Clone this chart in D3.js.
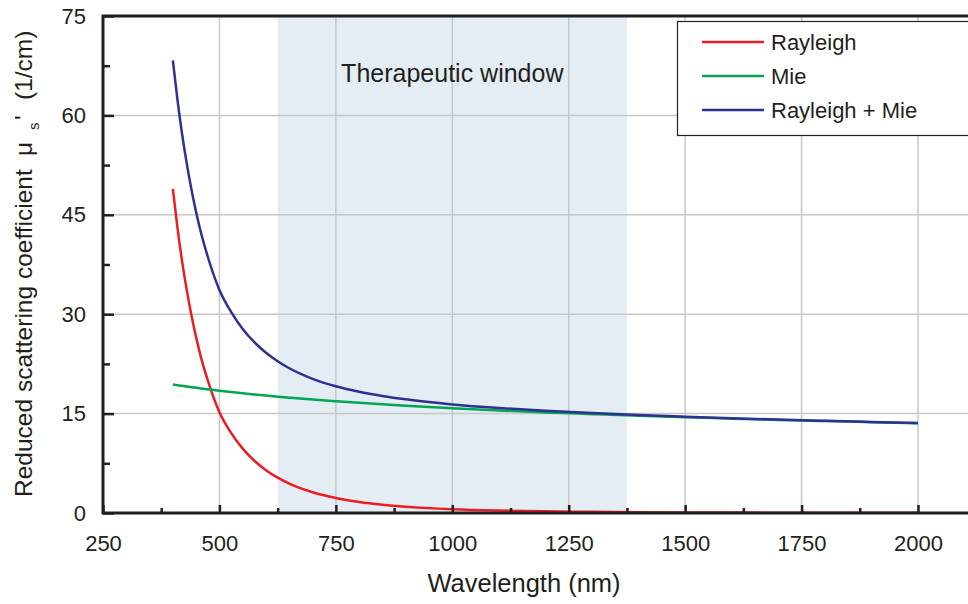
<!DOCTYPE html>
<html lang="en">
<head>
    <meta charset="UTF-8">
    <title>Reduced scattering coefficient</title>
    <script src="https://d3js.org/d3.v7.min.js"></script>
    <style>
        body { margin: 0; background: #fff; }
        svg { display: block; font-family: "Liberation Sans", Arial, sans-serif; }
        .tick text { font-size: 22px; fill: #231f20; }
        .tick line { stroke: #231f20; stroke-width: 2.5px; }
        .grid line { stroke: #c8c8c8; stroke-width: 1.5px; }
        .curve { fill: none; stroke-width: 2.5px; }
    </style>
</head>
<body>
    <svg width="968" height="604"></svg>

    <script>
        // values
        const wavelengths = [400, 410, 420, 430, 440, 450, 460, 475, 500, 525, 550, 575, 600, 625, 650,
            700, 750, 800, 850, 900, 1000, 1100, 1200, 1300, 1400, 1500, 1600, 1700, 1800, 1900, 2000];
        const rayleigh = [48.9, 43.0, 37.9, 33.6, 29.8, 26.5, 23.6, 20.0, 15.2, 12.09, 9.71, 7.88, 6.45, 5.33, 4.43,
            3.13, 2.26, 1.67, 1.26, 0.96, 0.58, 0.37, 0.25, 0.17, 0.12, 0.087, 0.064, 0.048, 0.037, 0.029, 0.022];
        const mie = [19.4, 19.29, 19.19, 19.09, 18.99, 18.9, 18.8, 18.67, 18.46, 18.26, 18.07, 17.89, 17.72, 17.56, 17.41,
            17.12, 16.86, 16.62, 16.4, 16.19, 15.81, 15.48, 15.18, 14.92, 14.67, 14.45, 14.24, 14.05, 13.87, 13.71, 13.55];
        const total = [68.3, 62.29, 57.09, 52.69, 48.79, 45.4, 42.4, 38.67, 33.66, 30.35, 27.78, 25.77, 24.17, 22.89, 21.84,
            20.25, 19.12, 18.29, 17.66, 17.15, 16.39, 15.85, 15.43, 15.09, 14.79, 14.54, 14.3, 14.1, 13.91, 13.74, 13.57];

        const seriesNames = ["Rayleigh", "Mie", "Rayleigh + Mie"];
        const seriesColors = ["#ed1c24", "#00a651", "#2e3192"];
        const xTicks = [250, 500, 750, 1000, 1250, 1500, 1750, 2000];
        const xMinor = [375, 625, 875, 1125, 1375, 1625, 1875];
        const yTicks = [0, 15, 30, 45, 60, 75];
        const yMinor = [7.5, 22.5, 37.5, 52.5, 67.5];
        const therapeuticWindow = [625, 1375];

        const W = 968, H = 604;
        const plotLeft = 103, plotTop = 16, plotBottom = 513;

        const svg = d3.select("svg");

        const x = d3.scaleLinear().domain([250, 2000]).range([plotLeft, 918]);
        const y = d3.scaleLinear().domain([0, 75]).range([plotBottom, plotTop]);

        // therapeutic window shading
        svg.append("rect")
            .attr("x", x(therapeuticWindow[0]))
            .attr("y", plotTop)
            .attr("width", x(therapeuticWindow[1]) - x(therapeuticWindow[0]))
            .attr("height", plotBottom - plotTop)
            .attr("fill", "#e4edf3");

        // grid
        const grid = svg.append("g").attr("class", "grid");
        grid.selectAll(".vx").data(xTicks.slice(1)).join("line")
            .attr("x1", d => x(d)).attr("x2", d => x(d))
            .attr("y1", plotTop).attr("y2", plotBottom);
        grid.selectAll(".hy").data(yTicks.slice(1, -1)).join("line")
            .attr("x1", plotLeft).attr("x2", W)
            .attr("y1", d => y(d)).attr("y2", d => y(d));

        svg.append("text")
            .attr("x", x(1000)).attr("y", 82)
            .attr("text-anchor", "middle")
            .attr("font-size", 25)
            .attr("fill", "#231f20")
            .text("Therapeutic window");

        // curves
        const series = [rayleigh, mie, total];
        const line = d3.line()
            .x((d, i) => x(wavelengths[i]))
            .y(d => y(d))
            .curve(d3.curveMonotoneX);

        svg.selectAll(".curve").data(series).join("path")
            .attr("class", "curve")
            .attr("stroke", (d, i) => seriesColors[i])
            .attr("d", line);

        // axes
        const xAxis = svg.append("g")
            .attr("transform", `translate(0,${plotBottom})`)
            .call(d3.axisBottom(x).tickValues(xTicks).tickFormat(d3.format("d")).tickSize(-8).tickPadding(22));
        xAxis.select(".domain").remove();
        const xAxisMinor = svg.append("g")
            .attr("transform", `translate(0,${plotBottom})`)
            .call(d3.axisBottom(x).tickValues(xMinor).tickSize(-5).tickFormat(""));
        xAxisMinor.select(".domain").remove();

        const yAxis = svg.append("g")
            .attr("transform", `translate(${plotLeft},0)`)
            .call(d3.axisLeft(y).tickValues(yTicks).tickFormat(d3.format("d")).tickSize(-11).tickPadding(17));
        yAxis.select(".domain").remove();
        const yAxisMinor = svg.append("g")
            .attr("transform", `translate(${plotLeft},0)`)
            .call(d3.axisLeft(y).tickValues(yMinor).tickSize(-7).tickFormat(""));
        yAxisMinor.select(".domain").remove();

        // frame lines (the right edge runs past the picture)
        svg.append("path")
            .attr("d", `M${W},${plotTop}H${plotLeft}V${plotBottom}H${W}`)
            .attr("fill", "none")
            .attr("stroke", "#231f20")
            .attr("stroke-width", 3);

        // legend
        const legend = svg.append("g");
        legend.append("rect")
            .attr("x", 677.5).attr("y", 21.5)
            .attr("width", 320).attr("height", 114)
            .attr("fill", "#fff")
            .attr("stroke", "#231f20")
            .attr("stroke-width", 1.2);
        seriesNames.forEach((name, i) => {
            const ly = 42 + i * 34;
            legend.append("line")
                .attr("x1", 702).attr("x2", 764)
                .attr("y1", ly).attr("y2", ly)
                .attr("stroke", seriesColors[i])
                .attr("stroke-width", 2.5);
            legend.append("text")
                .attr("x", 771).attr("y", ly)
                .attr("dy", "0.35em")
                .attr("font-size", 22)
                .attr("fill", "#231f20")
                .text(name);
        });

        // axis titles
        svg.append("text")
            .attr("x", 524).attr("y", 592)
            .attr("text-anchor", "middle")
            .attr("font-size", 25.5)
            .attr("fill", "#231f20")
            .text("Wavelength (nm)");

        const yTitle = svg.append("text")
            .attr("transform", "translate(32,497) rotate(-90)")
            .attr("font-size", 24.5)
            .attr("fill", "#231f20");
        yTitle.append("tspan").attr("x", 0).text("Reduced scattering coefficient");
        yTitle.append("tspan").attr("x", 341).text("μ");
        yTitle.append("tspan").attr("x", 367).attr("dy", 7).attr("font-size", 15).text("s");
        yTitle.append("tspan").attr("x", 377).attr("dy", -7).text("'");
        yTitle.append("tspan").attr("x", 397).text("(1/cm)");
    </script>
</body>
</html>
